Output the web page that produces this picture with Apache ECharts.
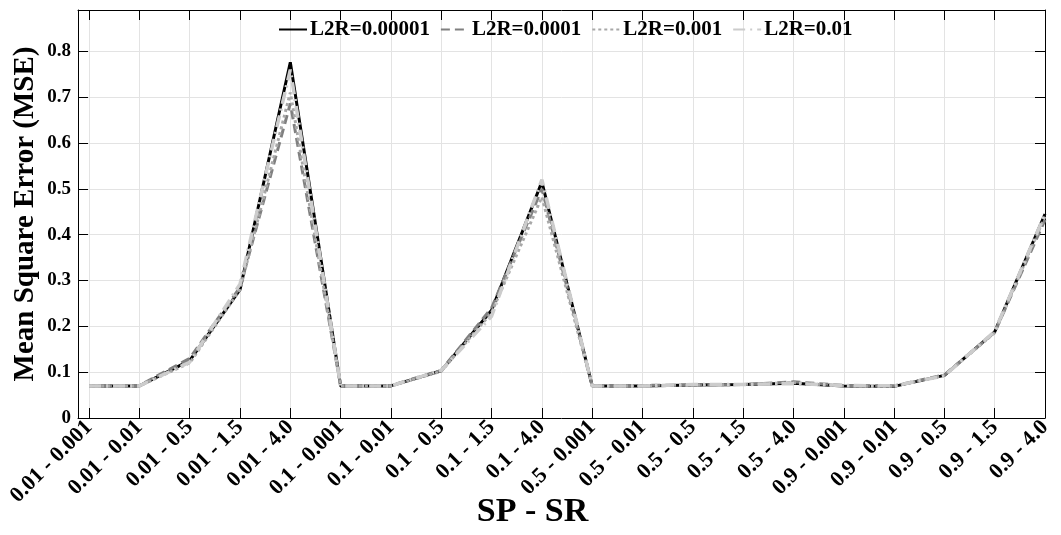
<!DOCTYPE html>
<html>
<head>
<meta charset="utf-8">
<script src="https://cdn.jsdelivr.net/npm/echarts@6/dist/echarts.min.js"></script>
<style>
html,body{margin:0;padding:0;background:#fff;}
#chart{width:1061px;height:535px;}
</style>
</head>
<body>
<div id="chart"></div>
<script>
var categories = ['0.01 - 0.001','0.01 - 0.01','0.01 - 0.5','0.01 - 1.5','0.01 - 4.0',
  '0.1 - 0.001','0.1 - 0.01','0.1 - 0.5','0.1 - 1.5','0.1 - 4.0',
  '0.5 - 0.001','0.5 - 0.01','0.5 - 0.5','0.5 - 1.5','0.5 - 4.0',
  '0.9 - 0.001','0.9 - 0.01','0.9 - 0.5','0.9 - 1.5','0.9 - 4.0'];
var seriesNames = ['L2R=0.00001','L2R=0.0001','L2R=0.001','L2R=0.01'];
var mse_00001 = [0.070,0.070,0.125,0.280,0.776,0.070,0.070,0.103,0.235,0.515,0.070,0.070,0.072,0.073,0.076,0.070,0.069,0.093,0.188,0.445];
var mse_0001  = [0.071,0.071,0.130,0.285,0.686,0.071,0.071,0.104,0.240,0.500,0.071,0.071,0.072,0.073,0.079,0.071,0.070,0.094,0.187,0.432];
var mse_001   = [0.070,0.070,0.120,0.280,0.710,0.070,0.070,0.102,0.230,0.482,0.070,0.070,0.072,0.073,0.077,0.070,0.069,0.093,0.186,0.440];
var mse_01    = [0.070,0.070,0.122,0.292,0.760,0.070,0.070,0.104,0.222,0.520,0.070,0.070,0.073,0.073,0.075,0.071,0.070,0.092,0.189,0.445];
var yTicks = [0,0.1,0.2,0.3,0.4,0.5,0.6,0.7,0.8];

var xIdx = categories.map(function(c,i){return i;});
function pairs(arr){return arr.map(function(v,i){return [i,v];});}

var font = '"Liberation Serif","Times New Roman",serif';
var chart = echarts.init(document.getElementById('chart'));
var tickStyle = {color:'#000', width:1};
chart.setOption({
  animation:false,
  backgroundColor:'#fff',
  grid:{left:78, right:16, top:10, bottom:117, containLabel:false, outerBoundsMode:'none'},
  legend:{
    top:14, left:273, itemWidth:28, itemHeight:14, itemGap:10,
    textStyle:{fontFamily:font, fontWeight:'bold', fontSize:21, color:'#000', padding:[0,0,0,-2]},
    itemStyle:{opacity:0},
    data:seriesNames
  },
  xAxis:[{
    type:'value', min:-0.22, max:19,
    name:'SP - SR', nameLocation:'middle', nameGap:77, nameMoveOverlap:false,
    nameTextStyle:{fontFamily:font, fontWeight:'bold', fontSize:34, color:'#000', padding:[0,58,0,0]},
    axisLine:{show:true, onZero:false, lineStyle:{color:'#000', width:1}},
    axisTick:{show:true, inside:true, length:10, lineStyle:tickStyle, customValues:xIdx},
    axisLabel:{customValues:xIdx, rotate:45, margin:6, fontFamily:font, fontWeight:'bold', fontSize:22, color:'#000',
      formatter:function(v){return categories[Math.round(v)];}},
    splitLine:{show:true, lineStyle:{color:'#e3e3e3', width:1}}
  },{
    type:'value', min:-0.22, max:19, position:'top',
    axisLine:{show:true, onZero:false, lineStyle:{color:'#000', width:1}},
    axisTick:{show:true, inside:true, length:10, lineStyle:tickStyle, customValues:xIdx},
    axisLabel:{show:false}, splitLine:{show:false}
  }],
  yAxis:[{
    type:'value', min:0, max:0.89,
    name:'Mean Square Error (MSE)', nameLocation:'middle', nameGap:38, nameMoveOverlap:false,
    nameTextStyle:{fontFamily:font, fontWeight:'bold', fontSize:29, color:'#000'},
    axisLine:{show:true, onZero:false, lineStyle:{color:'#000', width:1}},
    axisTick:{show:true, inside:true, length:10, lineStyle:tickStyle, customValues:yTicks},
    axisLabel:{customValues:yTicks, margin:7, fontFamily:font, fontWeight:'bold', fontSize:19, color:'#000',
      formatter:function(v){return v===0?'0':v.toFixed(1);}},
    splitLine:{show:true, lineStyle:{color:'#e3e3e3', width:1}}
  },{
    type:'value', min:0, max:0.89, position:'right',
    axisLine:{show:true, onZero:false, lineStyle:{color:'#000', width:1}},
    axisTick:{show:true, inside:true, length:10, lineStyle:tickStyle, customValues:yTicks},
    axisLabel:{show:false}, splitLine:{show:false}
  }],
  series:[
    {name:seriesNames[0], type:'line', data:pairs(mse_00001), showSymbol:false, symbol:'none',
      lineStyle:{color:'#000000', width:3, type:'solid'}, itemStyle:{color:'#000000'}, z:2},
    {name:seriesNames[1], type:'line', data:pairs(mse_0001), showSymbol:false, symbol:'none',
      lineStyle:{color:'#808080', width:3, type:[9,5]}, itemStyle:{color:'#808080'}, z:3},
    {name:seriesNames[2], type:'line', data:pairs(mse_001), showSymbol:false, symbol:'none',
      lineStyle:{color:'#a8a8a8', width:3, type:[3,3]}, itemStyle:{color:'#a8a8a8'}, z:4},
    {name:seriesNames[3], type:'line', data:pairs(mse_01), showSymbol:false, symbol:'none',
      lineStyle:{color:'#cccccc', width:3.5, type:[12,5,2,5]}, itemStyle:{color:'#cccccc'}, z:5}
  ]
});
</script>
</body>
</html>
